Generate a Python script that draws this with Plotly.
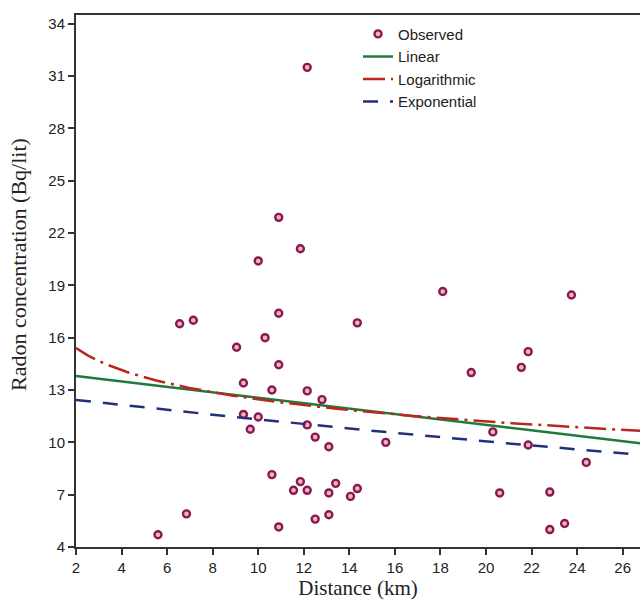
import numpy as np
import plotly.graph_objects as go

# Observed radon concentration against distance
distance_km = [12.15, 10.9, 11.85, 10.0, 18.1, 23.75, 10.9, 6.55, 7.15, 10.3,
               9.05, 10.9, 9.35, 10.6, 12.15, 12.8, 9.35, 10.0, 9.65, 12.15,
               12.5, 10.6, 11.85, 11.55, 12.15, 6.85, 5.6, 10.9, 12.5, 14.35,
               21.85, 21.55, 19.35, 13.1, 15.6, 20.3, 21.85, 24.4, 13.4, 13.1,
               14.35, 14.05, 13.1, 20.6, 22.8, 22.8, 23.45]
radon_bq = [31.5, 22.9, 21.1, 20.4, 18.65, 18.45, 17.4, 16.8, 17.0, 16.0,
            15.45, 14.45, 13.4, 13.0, 12.95, 12.45, 11.6, 11.45, 10.75, 11.0,
            10.3, 8.15, 7.75, 7.25, 7.25, 5.9, 4.7, 5.15, 5.6, 16.85,
            15.2, 14.3, 14.0, 9.75, 10.0, 10.6, 9.85, 8.85, 7.65, 7.1,
            7.35, 6.9, 5.85, 7.1, 7.15, 5.0, 5.35]

# Fitted model coefficients
linear_coef = (14.12, -0.156)        # y = a + b*x
log_coef = (16.67, -1.827)           # y = a + b*ln(x)
exp_coef = (12.73, -0.0118)          # y = a * exp(b*x)

x_ticks = list(range(2, 27, 2))
y_ticks = list(range(4, 35, 3))
x_range = [2, 26.76]
y_range = [4, 34.5]

xs = np.linspace(x_range[0], x_range[1], 200)

fig = go.Figure()
fig.add_trace(go.Scatter(
    x=distance_km, y=radon_bq, mode="markers", name="Observed",
    marker=dict(symbol="circle", size=7, color="#eab6ce",
                line=dict(color="#8b1a4c", width=2.4)),
))
fig.add_trace(go.Scatter(
    x=xs, y=linear_coef[0] + linear_coef[1] * xs, mode="lines", name="Linear",
    line=dict(color="#1f7a3a", width=2.5),
))
fig.add_trace(go.Scatter(
    x=xs, y=log_coef[0] + log_coef[1] * np.log(xs), mode="lines", name="Logarithmic",
    line=dict(color="#b8281e", width=2.5, dash="22px,6px,3px,6px"),
))
fig.add_trace(go.Scatter(
    x=xs, y=exp_coef[0] * np.exp(exp_coef[1] * xs), mode="lines", name="Exponential",
    line=dict(color="#22307a", width=2.5, dash="15px,12px"),
))

axis_font = dict(family="Liberation Sans, Arial, sans-serif", size=15, color="#222")
serif = "Liberation Serif, Times New Roman, serif"

fig.update_layout(
    width=640, height=600,
    margin=dict(l=76, r=0, t=15, b=53),
    paper_bgcolor="white", plot_bgcolor="white",
    showlegend=True,
    legend=dict(x=0.5, y=0.995, xanchor="left", yanchor="top",
                bgcolor="rgba(0,0,0,0)", itemwidth=30, tracegroupgap=0,
                font=dict(family="Liberation Sans, Arial, sans-serif", size=15, color="#222")),
    xaxis=dict(range=x_range, tickvals=x_ticks, showgrid=False, zeroline=False,
               showline=True, linecolor="#333", linewidth=2, mirror=True,
               ticks="outside", ticklen=6, tickwidth=2, tickcolor="#333",
               tickfont=axis_font,
               title=dict(text="Distance (km)", font=dict(family=serif, size=21, color="#222"),
                          standoff=0)),
    yaxis=dict(range=y_range, tickvals=y_ticks, showgrid=False, zeroline=False,
               showline=True, linecolor="#333", linewidth=2,
               ticks="outside", ticklen=6, tickwidth=2, tickcolor="#333",
               tickfont=axis_font),
    annotations=[dict(
        text="Radon concentration (Bq/lit)", textangle=-90,
        xref="paper", yref="paper", x=0, y=0.53, xanchor="center", yanchor="middle",
        xshift=-58, showarrow=False,
        font=dict(family=serif, size=22, color="#222"),
    )],
)

fig.write_html("out.html")
